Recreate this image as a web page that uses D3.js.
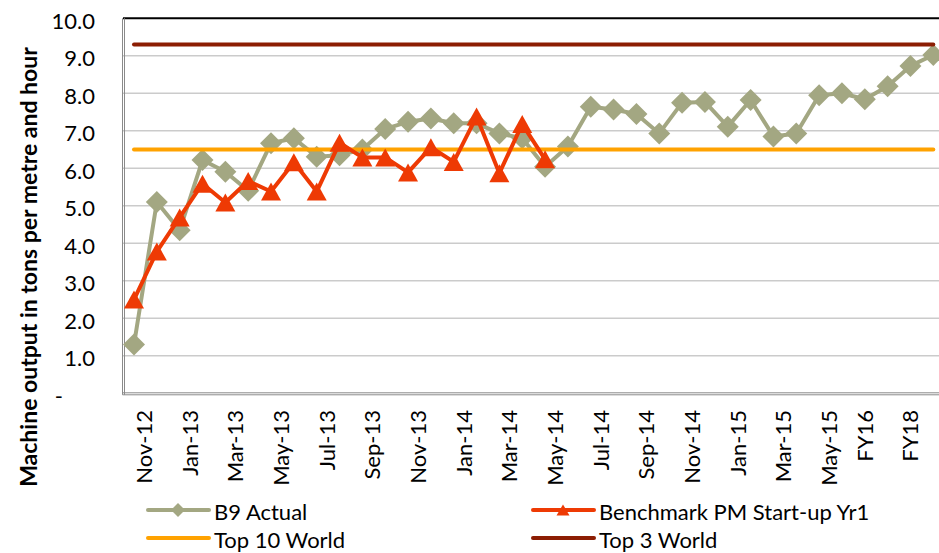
<!DOCTYPE html>
<html>
<head>
<meta charset="utf-8">
<script src="https://cdn.jsdelivr.net/npm/d3@7"></script>
<style>
  html, body { margin: 0; padding: 0; background: #fff; }
  svg { display: block; font-family: Lato, "Open Sans", sans-serif; }
</style>
</head>
<body>
<svg id="chart" width="939" height="553"></svg>
<script>
// Monthly categories from Nov-12 to May-15, followed by the fiscal-year outlook
const categories = [
  "Nov-12", "Dec-12", "Jan-13", "Feb-13", "Mar-13", "Apr-13", "May-13", "Jun-13",
  "Jul-13", "Aug-13", "Sep-13", "Oct-13", "Nov-13", "Dec-13", "Jan-14", "Feb-14",
  "Mar-14", "Apr-14", "May-14", "Jun-14", "Jul-14", "Aug-14", "Sep-14", "Oct-14",
  "Nov-14", "Dec-14", "Jan-15", "Feb-15", "Mar-15", "Apr-15", "May-15", "Jun-15",
  "FY16", "FY17", "FY18", "FY19"
];

// Machine output, tons per metre and hour
const b9Actual = [
  1.3, 5.1, 4.35, 6.22, 5.91, 5.4, 6.67, 6.8,
  6.31, 6.35, 6.5, 7.05, 7.24, 7.33, 7.2, 7.2,
  6.93, 6.8, 6.04, 6.58, 7.64, 7.57, 7.45, 6.93,
  7.75, 7.77, 7.11, 7.82, 6.85, 6.93, 7.95, 8.0,
  7.84, 8.19, 8.73, 9.02
];
const benchmarkYr1 = [
  2.5, 3.78, 4.69, 5.59, 5.09, 5.66, 5.38, 6.16,
  5.38, 6.68, 6.29, 6.29, 5.89, 6.56, 6.17, 7.38,
  5.87, 7.18, 6.24
];
const top10World = 6.5;
const top3World = 9.3;

const yTicks = [0, 1, 2, 3, 4, 5, 6, 7, 8, 9, 10];

const svg = d3.select("#chart");
const plot = { left: 123, right: 939, top: 18.3, bottom: 393.3 };

const x = d3.scalePoint().domain(categories).range([134, 933.3]);
const y = d3.scaleLinear().domain([0, 10]).range([plot.bottom, plot.top]);

const colors = {
  b9: "#a3a782",
  bench: "#ee3a04",
  top10: "#ffa200",
  top3: "#8c1d03",
  grid: "#cbcbcb",
  frame: "#8a8a8a"
};
const fontSize = 22;

// Horizontal gridlines
svg.append("g")
  .selectAll("line")
  .data(yTicks.filter(t => t > 0 && t < 10))
  .join("line")
  .attr("x1", plot.left).attr("x2", plot.right)
  .attr("y1", d => y(d)).attr("y2", d => y(d))
  .attr("stroke", colors.grid).attr("stroke-width", 1.6);

// Top border
svg.append("line")
  .attr("x1", plot.left).attr("x2", plot.right)
  .attr("y1", y(10)).attr("y2", y(10))
  .attr("stroke", "#000").attr("stroke-width", 2);

// Double frame lines on the left and bottom
[0, 2].forEach(off => {
  svg.append("line")
    .attr("x1", plot.left - 0.5 + off).attr("x2", plot.left - 0.5 + off)
    .attr("y1", plot.top).attr("y2", plot.bottom + 1.5)
    .attr("stroke", colors.frame).attr("stroke-width", 1);
  svg.append("line")
    .attr("x1", plot.left - 0.5).attr("x2", plot.right)
    .attr("y1", plot.bottom - 0.5 + off).attr("y2", plot.bottom - 0.5 + off)
    .attr("stroke", colors.frame).attr("stroke-width", 1);
});

// Y axis tick labels
const yAxis = d3.axisLeft(y)
  .tickValues(yTicks)
  .tickSize(0)
  .tickPadding(0)
  .tickFormat(d => d === 0 ? "-" : d3.format(".1f")(d));
const yg = svg.append("g").attr("transform", "translate(95,0)").call(yAxis);
yg.select(".domain").remove();
yg.selectAll("text")
  .attr("font-family", "Lato, sans-serif")
  .attr("font-size", fontSize)
  .attr("fill", "#000")
  .attr("dy", "0.45em")
  .attr("x", d => d === 0 ? -32 : 0);

// X axis category labels (every second category)
const xAxis = d3.axisBottom(x)
  .tickValues(categories.filter((c, i) => i % 2 === 0))
  .tickSize(0)
  .tickPadding(0);
const xg = svg.append("g").attr("transform", "translate(0,410)").call(xAxis);
xg.select(".domain").remove();
xg.selectAll("text")
  .attr("font-family", "Lato, sans-serif")
  .attr("font-size", fontSize)
  .attr("fill", "#000")
  .attr("text-anchor", "end")
  .attr("dy", 0)
  .attr("y", 0)
  .attr("transform", d => `translate(${d.startsWith("FY") ? 7.5 : 17.5},0) rotate(-90)`);

// Y axis title
svg.append("text")
  .attr("transform", "translate(36.5,267) rotate(-90)")
  .attr("text-anchor", "middle")
  .attr("font-family", "Lato, sans-serif")
  .attr("font-weight", "bold")
  .attr("font-size", 23)
  .attr("fill", "#000")
  .text("Machine output in tons per metre and hour");

const line = d3.line()
  .x((d, i) => x(categories[i]))
  .y(d => y(d));

const diamond = r => `M0,${-r}L${r},0L0,${r}L${-r},0Z`;
const triangle = (w, h) => `M0,${-h / 2}L${w / 2},${h / 2}L${-w / 2},${h / 2}Z`;

// B9 Actual series
svg.append("path")
  .datum(b9Actual)
  .attr("d", line)
  .attr("fill", "none")
  .attr("stroke", colors.b9)
  .attr("stroke-width", 4)
  .attr("stroke-linejoin", "round");
svg.append("g")
  .selectAll("path")
  .data(b9Actual)
  .join("path")
  .attr("transform", (d, i) => `translate(${x(categories[i])},${y(d)})`)
  .attr("d", diamond(11))
  .attr("fill", colors.b9);

// Top 10 World reference
svg.append("line")
  .attr("x1", x(categories[0])).attr("x2", x(categories[categories.length - 1]))
  .attr("y1", y(top10World)).attr("y2", y(top10World))
  .attr("stroke", colors.top10).attr("stroke-width", 4)
  .attr("stroke-linecap", "round");

// Benchmark PM start-up year 1
svg.append("path")
  .datum(benchmarkYr1)
  .attr("d", line)
  .attr("fill", "none")
  .attr("stroke", colors.bench)
  .attr("stroke-width", 4)
  .attr("stroke-linejoin", "round");
svg.append("g")
  .selectAll("path")
  .data(benchmarkYr1)
  .join("path")
  .attr("transform", (d, i) => `translate(${x(categories[i])},${y(d)})`)
  .attr("d", triangle(20, 18))
  .attr("fill", colors.bench);

// Top 3 World reference
svg.append("line")
  .attr("x1", x(categories[0])).attr("x2", x(categories[categories.length - 1]))
  .attr("y1", y(top3World)).attr("y2", y(top3World))
  .attr("stroke", colors.top3).attr("stroke-width", 4)
  .attr("stroke-linecap", "round");

// Legend
const legendItems = [
  { name: "B9 Actual", color: colors.b9, marker: diamond(7), x: 148, y: 510 },
  { name: "Benchmark PM Start-up Yr1", color: colors.bench, marker: triangle(13, 11), x: 533, y: 510 },
  { name: "Top 10 World", color: colors.top10, marker: null, x: 148, y: 538 },
  { name: "Top 3 World", color: colors.top3, marker: null, x: 533, y: 538 }
];
const lg = svg.append("g")
  .selectAll("g")
  .data(legendItems)
  .join("g")
  .attr("transform", d => `translate(${d.x},${d.y})`);
lg.append("line")
  .attr("x1", 0).attr("x2", 61)
  .attr("stroke", d => d.color).attr("stroke-width", 4)
  .attr("stroke-linecap", "round");
lg.filter(d => d.marker)
  .append("path")
  .attr("transform", "translate(30,0)")
  .attr("d", d => d.marker)
  .attr("fill", d => d.color);
lg.append("text")
  .attr("x", 66)
  .attr("dy", "0.45em")
  .attr("font-family", "Lato, sans-serif")
  .attr("font-size", fontSize)
  .attr("fill", "#000")
  .text(d => d.name);
</script>
</body>
</html>
